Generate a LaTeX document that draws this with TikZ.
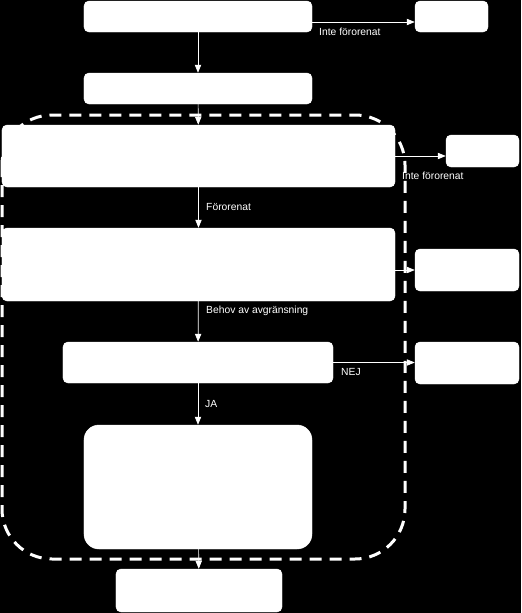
\documentclass[tikz,border=0pt]{standalone}
\usepackage{fontspec}
\setmainfont{Liberation Sans}
\usetikzlibrary{arrows.meta}

\tikzset{
  box/.style={rectangle, rounded corners=0.15cm, fill=white, draw=white, inner sep=0pt},
  lbl/.style={text=white, font=\fontsize{8.8}{10}\selectfont, anchor=west, inner sep=0pt},
  flow/.style={draw=white, line width=0.6pt, -{Triangle[length=0.24cm, width=0.19cm]}},
}

\begin{document}
\begin{tikzpicture}[x=0.03cm, y=-0.03cm]
		% background
		\fill[black] (0,0) rectangle (521,613);
		\useasboundingbox (0,0) rectangle (521,613);

		% dashed frame
		\draw[white, line width=0.09cm, dash pattern=on 0.36cm off 0.24cm, rounded corners=1.5cm]
			(2,115) rectangle (405,559);

		% boxes
		\node[box, minimum width=6.84cm, minimum height=0.93cm] (start) at (198,16.5) {};
		\node[box, minimum width=2.19cm, minimum height=0.93cm] (startR) at (451.5,16.5) {};
		\node[box, minimum width=6.84cm, minimum height=0.93cm] (step2) at (198,88.5) {};
		\node[box, minimum width=11.79cm, minimum height=1.86cm] (undersok) at (198.5,156) {};
		\node[box, minimum width=2.19cm, minimum height=0.96cm] (undersokR) at (482.5,151) {};
		\node[box, minimum width=11.79cm, minimum height=2.19cm] (bedom) at (198.5,264.5) {};
		\node[box, minimum width=3.12cm, minimum height=1.26cm] (bedomR) at (467,270) {};
		\node[box, minimum width=8.1cm, minimum height=1.23cm] (avgr) at (198,362.5) {};
		\node[box, minimum width=3.12cm, minimum height=1.26cm] (avgrR) at (467,363) {};
		\node[box, rounded corners=0.45cm, minimum width=6.84cm, minimum height=3.72cm] (atgard) at (198,487) {};
		\node[box, minimum width=4.98cm, minimum height=1.29cm] (slut) at (199,590.5) {};

		% arrows
		\draw[flow] ([yshift=-0.165cm]start.east) -- ([yshift=-0.165cm]start.east -| startR.west);
		\draw[flow] (start) -- (step2);
		\draw[flow] (step2) -- (undersok);
		\draw[flow] (undersok.east) -- (undersok.east -| undersokR.west);
		\draw[flow] (undersok) -- (bedom);
		\draw[flow] (bedomR.west -| bedom.east) -- (bedomR.west);
		\draw[flow] (bedom) -- (avgr);
		\draw[flow] (avgr.east) -- (avgr.east -| avgrR.west);
		\draw[flow] (avgr) -- (atgard);
		\draw[flow] (atgard) -- (slut);

		% labels
		\node[lbl] (l1) at (319,32) {Inte förorenat};
		\node[lbl] (l2) at (402,176) {Inte förorenat};
		\node[lbl] (l3) at (206,207) {Förorenat};
		\node[lbl] (l4) at (206,311) {Behov av avgränsning};
		\node[lbl] (l5) at (341,372) {NEJ};
		\node[lbl] (l6) at (205,404) {JA};
\end{tikzpicture}
\end{document}
